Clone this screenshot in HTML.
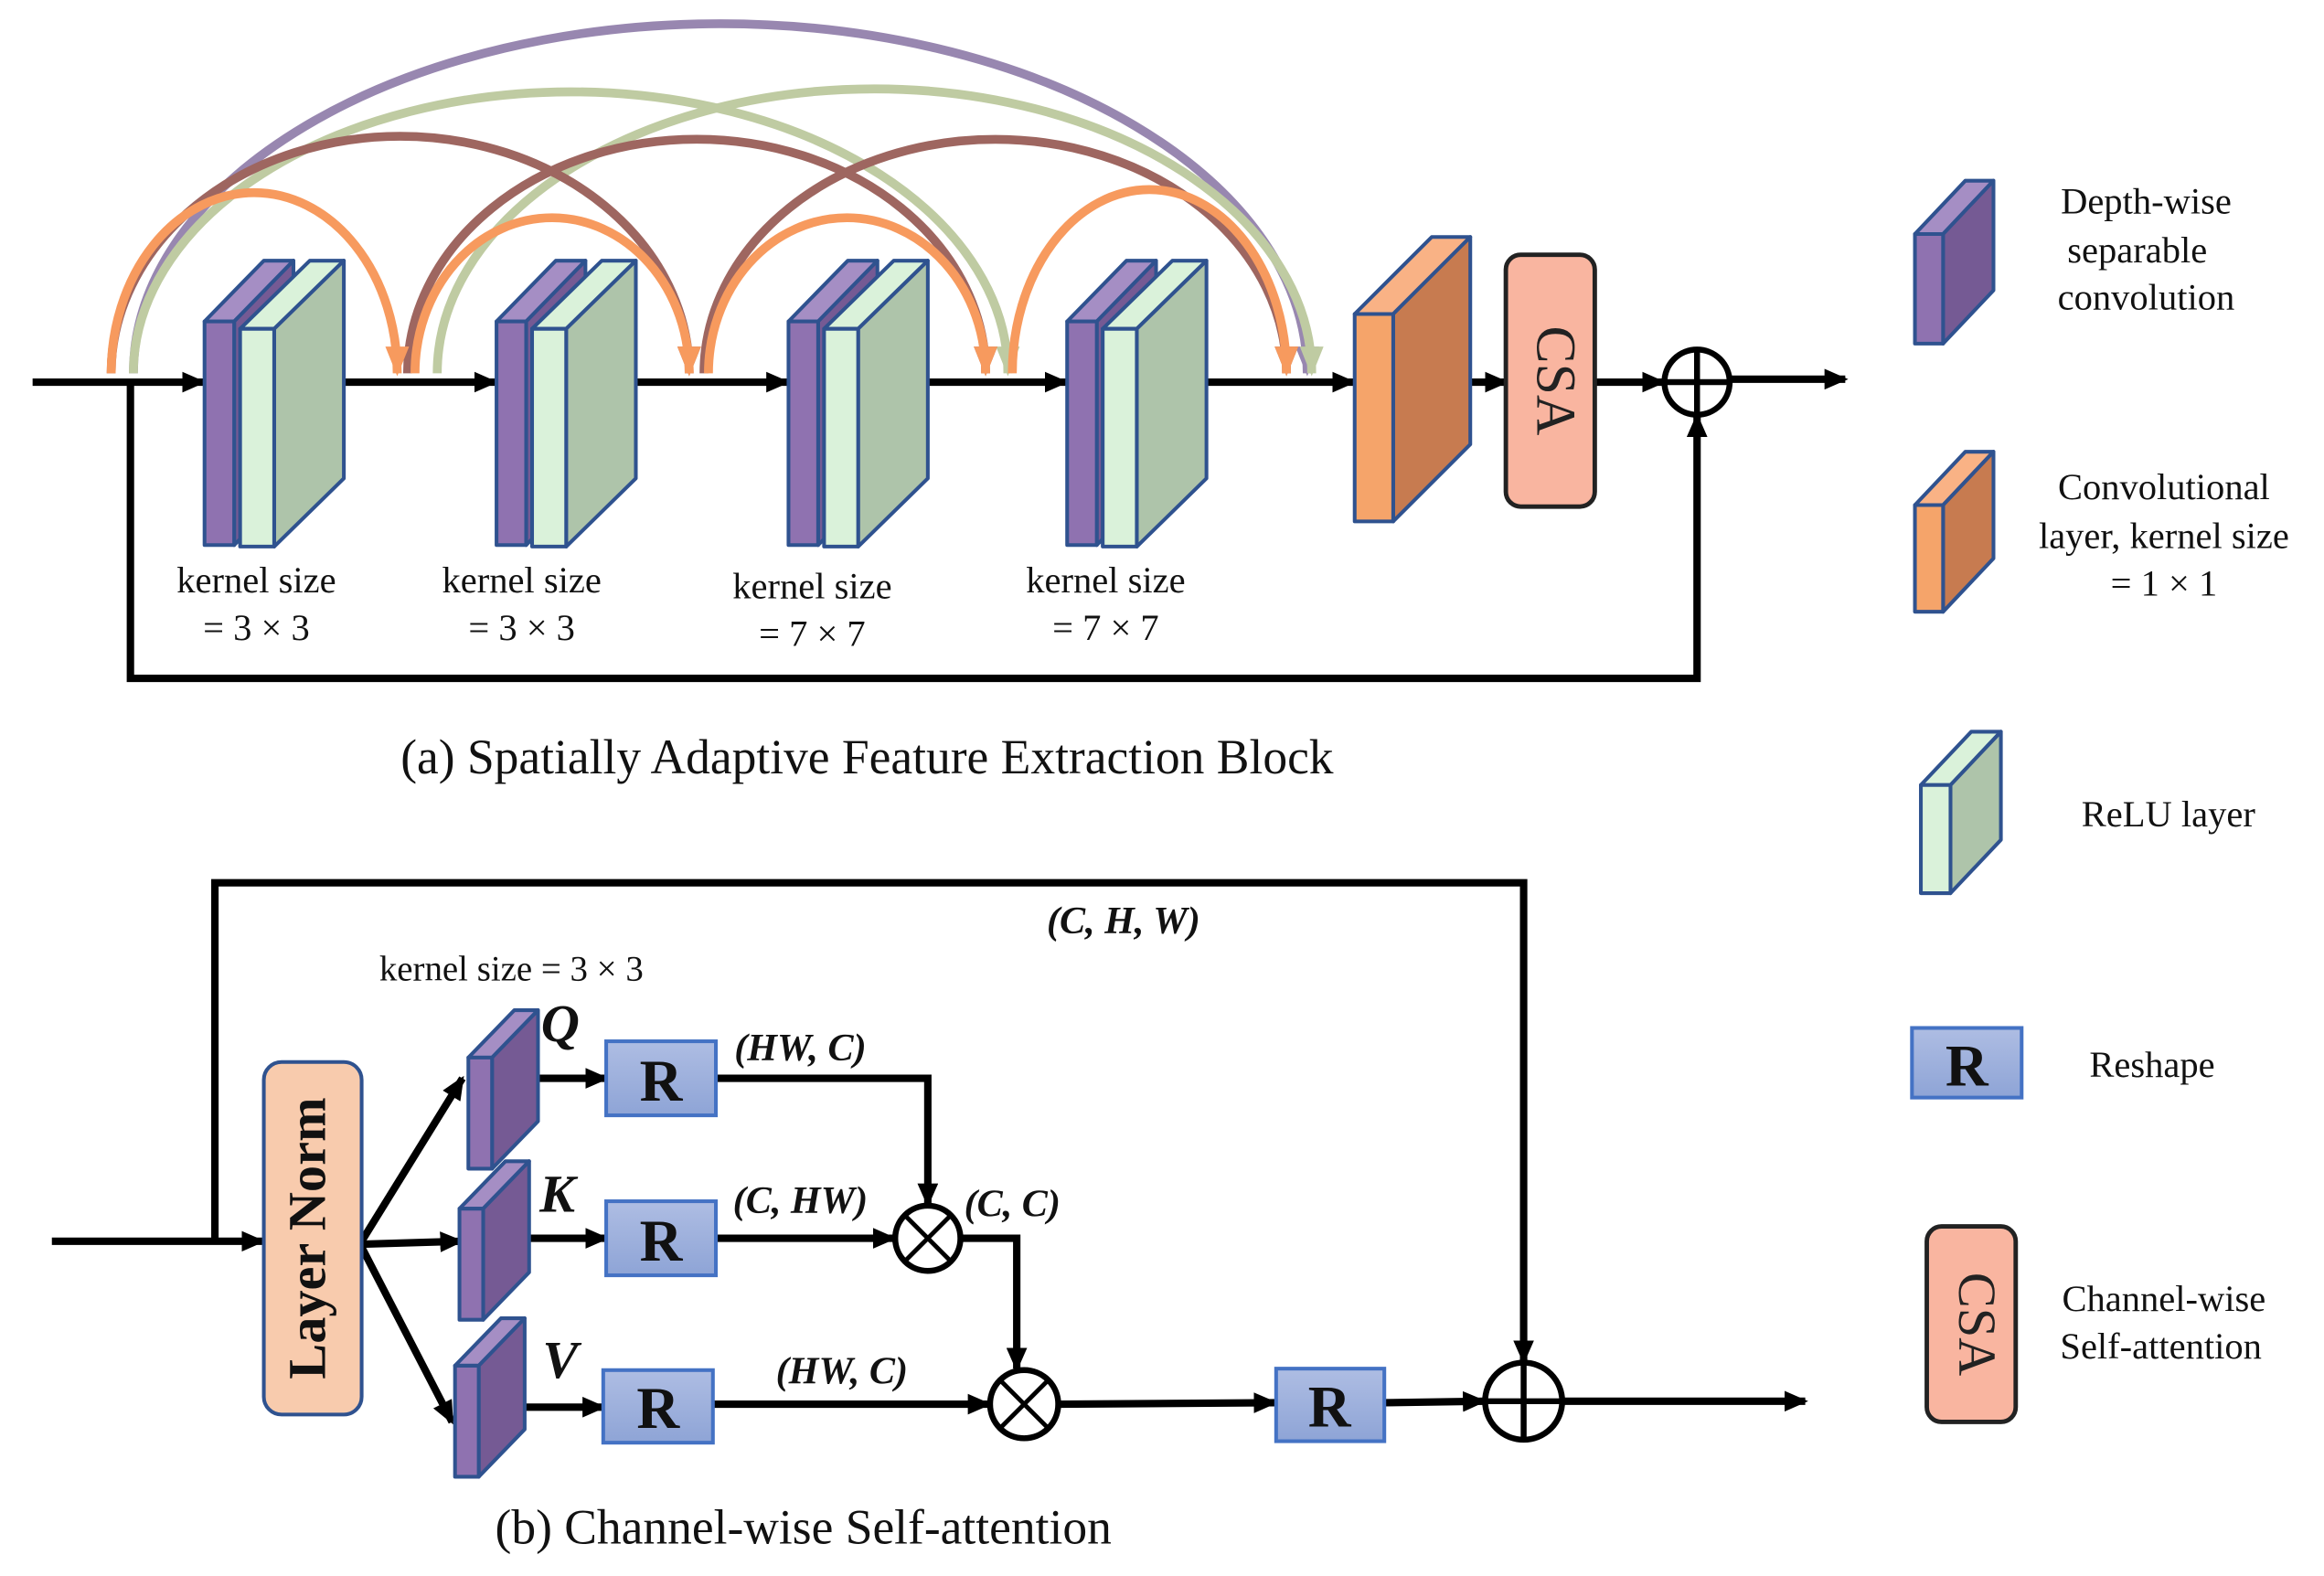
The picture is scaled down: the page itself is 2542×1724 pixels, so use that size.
<!DOCTYPE html>
<html><head><meta charset="utf-8"><style>html,body{margin:0;padding:0;background:#fff}svg{display:block}svg text{font-family:"Liberation Serif","Times New Roman","DejaVu Serif",serif !important}</style></head><body>
<svg width="2542" height="1724" viewBox="0 0 1568 1064" preserveAspectRatio="none" xmlns="http://www.w3.org/2000/svg" font-family="Liberation Serif">
<defs>
<marker id="ah" markerWidth="16" markerHeight="14" refX="14" refY="7" orient="auto" markerUnits="userSpaceOnUse"><path d="M0,0 L16,7 L0,14 Z" fill="#000"/></marker>
<marker id="ao" markerWidth="16" markerHeight="20" refX="8" refY="18" orient="0" markerUnits="userSpaceOnUse"><path d="M0,0 L16,0 L8,20 Z" fill="#F79A5E"/></marker>
<marker id="ab" markerWidth="16" markerHeight="20" refX="8" refY="18" orient="0" markerUnits="userSpaceOnUse"><path d="M0,0 L16,0 L8,20 Z" fill="#9E6660"/></marker>
<marker id="ag" markerWidth="16" markerHeight="20" refX="8" refY="18" orient="0" markerUnits="userSpaceOnUse"><path d="M0,0 L16,0 L8,20 Z" fill="#BFCBA2"/></marker>
<marker id="ap" markerWidth="16" markerHeight="20" refX="8" refY="18" orient="0" markerUnits="userSpaceOnUse"><path d="M0,0 L16,0 L8,20 Z" fill="#9887B0"/></marker>
<linearGradient id="rg" x1="0" y1="0" x2="0" y2="1"><stop offset="0" stop-color="#AEBDE3"/><stop offset="1" stop-color="#8EA4D6"/></linearGradient>
<g id="blk" stroke="#2F528F" stroke-width="2.5" stroke-linejoin="round">
<path d="M138,217 L178,176 L198,176 L158,217 Z" fill="#A58EC4"/>
<path d="M158,217 L198,176 L198,327 L158,368 Z" fill="#755A94"/>
<rect x="138" y="217" width="20" height="151" fill="#8F72B0"/>
<path d="M162,222 L209,176 L232,176 L185,222 Z" fill="#DAF2DA"/>
<path d="M185,222 L232,176 L232,323 L185,369 Z" fill="#AEC4AA"/>
<rect x="162" y="222" width="23" height="147" fill="#DAF2DA"/>
</g>
<g id="thin" stroke="#2F528F" stroke-width="2.5" stroke-linejoin="round">
<path d="M0,32 L31,0 L47,0 L16,32 Z" fill="#A58EC4"/>
<path d="M16,32 L47,0 L47,75 L16,107 Z" fill="#755A94"/>
<rect x="0" y="32" width="16" height="75" fill="#8F72B0"/>
</g>
</defs>
<rect width="1568" height="1064" fill="#fff"/>

<g fill="none" stroke-width="6">
<path d="M90,252 A396,236 0 0 1 882,252" stroke="#9887B0" marker-end="url(#ap)"/>
<path d="M90,252 A295,190 0 0 1 680,252" stroke="#BFCBA2" marker-end="url(#ag)"/>
<path d="M295,252 A295,192 0 0 1 885,252" stroke="#BFCBA2" marker-end="url(#ag)"/>
<path d="M75,252 A195,160 0 0 1 465,252" stroke="#9E6660" marker-end="url(#ab)"/>
<path d="M275,252 A195,158 0 0 1 665,252" stroke="#9E6660" marker-end="url(#ab)"/>
<path d="M475,252 A196.5,158 0 0 1 868,252" stroke="#9E6660" marker-end="url(#ab)"/>
<path d="M75,252 A96.5,122 0 0 1 268,252" stroke="#F79A5E" marker-end="url(#ao)"/>
<path d="M280,252 A92.5,105 0 0 1 465,252" stroke="#F79A5E" marker-end="url(#ao)"/>
<path d="M478,252 A93.5,105 0 0 1 665,252" stroke="#F79A5E" marker-end="url(#ao)"/>
<path d="M683,252 A92.5,124 0 0 1 868,252" stroke="#F79A5E" marker-end="url(#ao)"/>
</g>

<g stroke="#000" stroke-width="5" fill="none">
<line x1="22" y1="258" x2="137" y2="258" marker-end="url(#ah)"/>
<line x1="220" y1="258" x2="334" y2="258" marker-end="url(#ah)"/>
<line x1="417" y1="258" x2="531" y2="258" marker-end="url(#ah)"/>
<line x1="614" y1="258" x2="719" y2="258" marker-end="url(#ah)"/>
<line x1="785" y1="258" x2="913" y2="258" marker-end="url(#ah)"/>
<line x1="980" y1="258" x2="1016" y2="258" marker-end="url(#ah)"/>
<line x1="1076" y1="258" x2="1122" y2="258" marker-end="url(#ah)"/>
<line x1="1168" y1="256" x2="1245" y2="256" marker-end="url(#ah)"/>
<polyline points="88,258 88,458 1145,458 1145,281" marker-end="url(#ah)"/>
<circle cx="1145" cy="258" r="22" stroke-width="4"/>
<line x1="1123" y1="258" x2="1167" y2="258" stroke-width="4"/>
<line x1="1145" y1="236" x2="1145" y2="280" stroke-width="4"/>
</g>

<use href="#blk"/>
<use href="#blk" x="197"/>
<use href="#blk" x="394"/>
<use href="#blk" x="582"/>

<g stroke="#2F528F" stroke-width="2.5" stroke-linejoin="round">
<path d="M914,212 L966,160 L992,160 L940,212 Z" fill="#F9B285"/>
<path d="M940,212 L992,160 L992,300 L940,352 Z" fill="#C77B50"/>
<rect x="914" y="212" width="26" height="140" fill="#F5A46A"/>
</g>
<rect x="1016" y="172" width="60" height="170" rx="10" fill="#F9B5A0" stroke="#222" stroke-width="3"/>
<text font-family="Liberation Serif" x="1046" y="257" font-size="38" text-anchor="middle" dominant-baseline="middle" transform="rotate(90 1046 257)" fill="#222">CSA</text>

<g font-family="Liberation Serif" font-size="25" text-anchor="middle" fill="#111">
<text x="173" y="400">kernel size</text><text x="173" y="432">= 3 × 3</text>
<text x="352" y="400">kernel size</text><text x="352" y="432">= 3 × 3</text>
<text x="548" y="404">kernel size</text><text x="548" y="436">= 7 × 7</text>
<text x="746" y="400">kernel size</text><text x="746" y="432">= 7 × 7</text>
<text x="585" y="522" font-size="33">(a) Spatially Adaptive Feature Extraction Block</text>
<text x="542" y="1042" font-size="33">(b) Channel-wise Self-attention</text>
</g>

<g stroke="#2F528F" stroke-width="2.5" stroke-linejoin="round">
<path d="M1292,158 L1326,122 L1345,122 L1311,158 Z" fill="#A58EC4"/>
<path d="M1311,158 L1345,122 L1345,196 L1311,232 Z" fill="#755A94"/>
<rect x="1292" y="158" width="19" height="74" fill="#8F72B0"/>
<path d="M1292,341 L1326,305 L1345,305 L1311,341 Z" fill="#F9B285"/>
<path d="M1311,341 L1345,305 L1345,377 L1311,413 Z" fill="#C77B50"/>
<rect x="1292" y="341" width="19" height="72" fill="#F5A46A"/>
<path d="M1296,530 L1330,494 L1350,494 L1316,530 Z" fill="#DAF2DA"/>
<path d="M1316,530 L1350,494 L1350,567 L1316,603 Z" fill="#AEC4AA"/>
<rect x="1296" y="530" width="20" height="73" fill="#DAF2DA"/>
</g>
<rect x="1290" y="694" width="74" height="47" fill="url(#rg)" stroke="#4472C4" stroke-width="2.5"/>
<text font-family="Liberation Serif" x="1327" y="733" font-size="40" font-weight="bold" text-anchor="middle" fill="#111">R</text>
<rect x="1300" y="828" width="60" height="132" rx="10" fill="#F9B5A0" stroke="#222" stroke-width="3"/>
<text font-family="Liberation Serif" x="1330" y="894" font-size="36" text-anchor="middle" dominant-baseline="middle" transform="rotate(90 1330 894)" fill="#222">CSA</text>
<g font-family="Liberation Serif" font-size="25" text-anchor="middle" fill="#111">
<text x="1448" y="144">Depth-wise</text><text x="1442" y="177">separable</text><text x="1448" y="209">convolution</text>
<text x="1460" y="337">Convolutional</text><text x="1460" y="370">layer, kernel size</text><text x="1460" y="402">= 1 × 1</text>
<text x="1463" y="558">ReLU layer</text>
<text x="1452" y="727">Reshape</text>
<text x="1460" y="885">Channel-wise</text><text x="1458" y="917">Self-attention</text>
</g>

<g stroke="#000" stroke-width="5" fill="none">
<polyline points="145,838 145,596 1028,596 1028,919" marker-end="url(#ah)"/>
<line x1="35" y1="838" x2="177" y2="838" marker-end="url(#ah)"/>
<line x1="244" y1="838" x2="312" y2="728" marker-end="url(#ah)"/>
<line x1="244" y1="840" x2="311" y2="838" marker-end="url(#ah)"/>
<line x1="244" y1="842" x2="305" y2="960" marker-end="url(#ah)"/>
<line x1="333" y1="728" x2="409" y2="728" marker-end="url(#ah)"/>
<line x1="338" y1="836" x2="409" y2="836" marker-end="url(#ah)"/>
<line x1="335" y1="950" x2="407" y2="950" marker-end="url(#ah)"/>
<polyline points="483,728 626,728 626,813" marker-end="url(#ah)"/>
<line x1="483" y1="836" x2="603" y2="836" marker-end="url(#ah)"/>
<polyline points="649,836 686,836 686,924" marker-end="url(#ah)"/>
<line x1="481" y1="948" x2="667" y2="948" marker-end="url(#ah)"/>
<line x1="715" y1="948" x2="860" y2="947" marker-end="url(#ah)"/>
<line x1="934" y1="947" x2="1001" y2="946" marker-end="url(#ah)"/>
<line x1="1054" y1="946" x2="1218" y2="946" marker-end="url(#ah)"/>
</g>
<g stroke="#000" stroke-width="4" fill="#fff">
<circle cx="626" cy="836" r="22"/>
<circle cx="691" cy="948" r="23"/>
<circle cx="1028" cy="946" r="26"/>
</g>
<g stroke="#000" stroke-width="3">
<line x1="610" y1="820" x2="642" y2="852"/><line x1="642" y1="820" x2="610" y2="852"/>
<line x1="675" y1="932" x2="707" y2="964"/><line x1="707" y1="932" x2="675" y2="964"/>
<line x1="1002" y1="946" x2="1054" y2="946" stroke-width="4"/><line x1="1028" y1="920" x2="1028" y2="972" stroke-width="4"/>
</g>
<rect x="178" y="717" width="66" height="238" rx="12" fill="#F8CBAD" stroke="#2F528F" stroke-width="2.5"/>
<text font-family="Liberation Serif" x="211" y="836" font-size="36" font-weight="bold" text-anchor="middle" dominant-baseline="middle" transform="rotate(-90 211 836)" fill="#111">Layer Norm</text>
<use href="#thin" x="316" y="682"/>
<use href="#thin" x="310" y="784"/>
<use href="#thin" x="307" y="890"/>
<g font-family="Liberation Serif" font-size="40" font-weight="bold" text-anchor="middle" fill="#111">
<rect x="409" y="703" width="74" height="50" fill="url(#rg)" stroke="#4472C4" stroke-width="2.5"/>
<text x="446" y="743">R</text>
<rect x="409" y="811" width="74" height="50" fill="url(#rg)" stroke="#4472C4" stroke-width="2.5"/>
<text x="446" y="851">R</text>
<rect x="407" y="925" width="74" height="49" fill="url(#rg)" stroke="#4472C4" stroke-width="2.5"/>
<text x="444" y="964">R</text>
<rect x="861" y="924" width="73" height="49" fill="url(#rg)" stroke="#4472C4" stroke-width="2.5"/>
<text x="897" y="963">R</text>
</g>
<g font-family="Liberation Serif" font-weight="bold" font-style="italic" fill="#111" text-anchor="middle">
<text x="378" y="703" font-size="36">Q</text>
<text x="376" y="818" font-size="36">K</text>
<text x="378" y="930" font-size="36">V</text>
<text x="758" y="630" font-size="26">(C, H, W)</text>
<text x="540" y="716" font-size="26">(HW, C)</text>
<text x="540" y="819" font-size="26">(C, HW)</text>
<text x="683" y="821" font-size="26">(C, C)</text>
<text x="568" y="934" font-size="26">(HW, C)</text>
</g>
<text font-family="Liberation Serif" x="345" y="662" font-size="24" text-anchor="middle" fill="#111">kernel size = 3 × 3</text>
</svg>
</body></html>
